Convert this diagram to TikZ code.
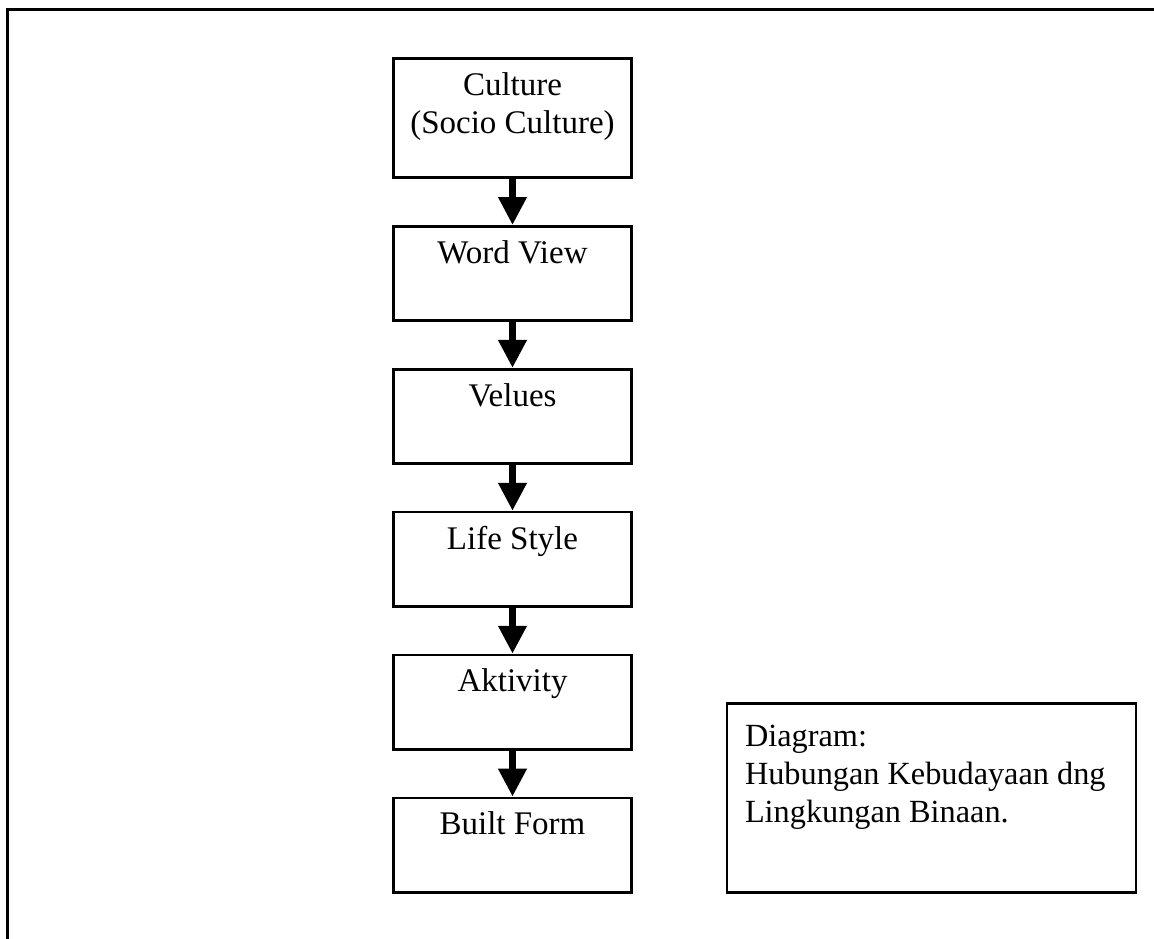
\documentclass[tikz,border=0pt]{standalone}
\usepackage{fontspec}
\setmainfont{Liberation Serif}
\usetikzlibrary{arrows.meta,positioning}
\definecolor{Ink}{HTML}{000000}
\tikzset{
  flowbox/.style={draw=Ink,line width=2.6pt,minimum width=238pt,minimum height=94.3pt,inner sep=0pt},
  flowtext/.style={anchor=north,yshift=-15pt,align=center,font=\fontsize{33pt}{38pt}\selectfont,text=Ink,inner sep=0pt},
  notebox/.style={draw=Ink,line width=2.6pt,minimum width=409pt,minimum height=188.5pt,inner sep=0pt},
  notetext/.style={anchor=north west,xshift=19pt,yshift=-22pt,align=left,font=\fontsize{32.3pt}{38pt}\selectfont,text=Ink,inner sep=0pt},
  flow/.style={-{Triangle[length=28pt,width=27pt]},draw=Ink,line width=7pt},
  frame/.style={draw=Ink,line width=3pt}
}

\begin{document}
\begin{tikzpicture}[x=1pt,y=-1pt,node distance=46pt]
  \useasboundingbox (0,0) rectangle (1154,939);
  \draw[frame] (7,939) -- (7,10) -- (1154,10);
  \node[flowbox,minimum height=119.5pt,label={[flowtext]north:{Culture\\(Socio Culture)}}] (culture) at (512.5,118) {};
  \node[flowbox,below=of culture,label={[flowtext]north:Word View}] (view) {};
  \node[flowbox,below=of view,label={[flowtext]north:Velues}] (values) {};
  \node[flowbox,below=of values,label={[flowtext]north:Life Style}] (style) {};
  \node[flowbox,below=of style,label={[flowtext]north:Aktivity}] (activity) {};
  \node[flowbox,below=of activity,label={[flowtext]north:Built Form}] (form) {};
  \node[notebox,anchor=south west,label={[notetext]north west:{Diagram:\\Hubungan Kebudayaan dng\\Lingkungan Binaan.}}] (note) at ([xshift=93pt]form.south east) {};
  \foreach \a/\b in {culture/view,view/values,values/style,style/activity,activity/form}
    \draw[flow] (\a) -- (\b);
\end{tikzpicture}
\end{document}
